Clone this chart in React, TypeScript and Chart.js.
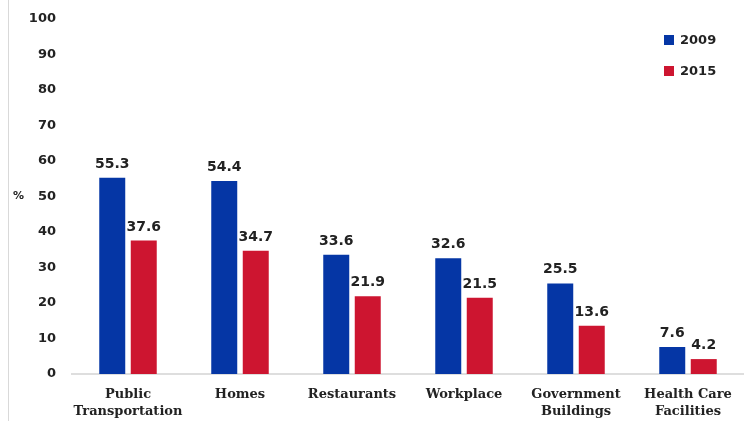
import React, { useEffect, useRef } from "react";
import { Chart, registerables } from "chart.js";

Chart.register(...registerables);

const categories: (string | string[])[] = [
  ["Public", "Transportation"],
  "Homes",
  "Restaurants",
  "Workplace",
  ["Government", "Buildings"],
  ["Health Care", "Facilities"],
];
const series2009 = [55.3, 54.4, 33.6, 32.6, 25.5, 7.6];
const series2015 = [37.6, 34.7, 21.9, 21.5, 13.6, 4.2];
const seriesNames = ["2009", "2015"];
const yTicks = [0, 10, 20, 30, 40, 50, 60, 70, 80, 90, 100];

const BLUE = "#0536a5";
const RED = "#cd1530";

export default function App() {
  const ref = useRef<HTMLCanvasElement | null>(null);

  useEffect(() => {
    document.body.style.margin = "0";
    const canvas = ref.current;
    if (!canvas) return;

    const extras = {
      id: "extras",
      afterDraw(chart: any) {
        const ctx = chart.ctx;
        ctx.save();
        // page border line
        ctx.strokeStyle = "#d9d9d9";
        ctx.lineWidth = 1;
        ctx.beginPath();
        ctx.moveTo(8.5, 0);
        ctx.lineTo(8.5, 421);
        ctx.stroke();
        // data labels
        ctx.fillStyle = "#222";
        ctx.font = "bold 14px 'DejaVu Sans'";
        ctx.textAlign = "center";
        ctx.textBaseline = "alphabetic";
        chart.data.datasets.forEach((ds: any, di: number) => {
          const meta = chart.getDatasetMeta(di);
          meta.data.forEach((bar: any, i: number) => {
            ctx.fillText(ds.data[i].toFixed(1), bar.x, bar.y - 10);
          });
        });
        // % label
        ctx.font = "bold 11px 'DejaVu Sans'";
        ctx.textAlign = "left";
        ctx.textBaseline = "middle";
        ctx.fillText("%", 13, 196);
        // legend
        const colors = [BLUE, RED];
        const ys = [40, 71];
        ctx.font = "bold 13px 'DejaVu Sans'";
        seriesNames.forEach((n, i) => {
          ctx.fillStyle = colors[i];
          ctx.fillRect(664, ys[i] - 5, 10, 10);
          ctx.fillStyle = "#222";
          ctx.fillText(n, 680, ys[i] + 1);
        });
        ctx.restore();
      },
    };

    const chart = new Chart(canvas, {
      type: "bar",
      data: {
        labels: categories,
        datasets: [
          { label: seriesNames[0], data: series2009, backgroundColor: BLUE },
          { label: seriesNames[1], data: series2015, backgroundColor: RED },
        ],
      },
      options: {
        responsive: false,
        animation: false,
        layout: { padding: { top: 19, right: 0, bottom: 3, left: 0 } },
        datasets: {
          bar: { categoryPercentage: 0.5625, barPercentage: 0.825 },
        },
        plugins: {
          legend: { display: false },
          tooltip: { enabled: false },
        },
        scales: {
          x: {
            grid: { display: false, drawTicks: false },
            border: { display: true, color: "#dedede", width: 2 },
            ticks: {
              color: "#222",
              font: { family: "'DejaVu Serif'", weight: "bold", size: 13, lineHeight: 1.3 },
              padding: 12,
              maxRotation: 0,
              autoSkip: false,
            },
            afterFit(scale: any) {
              scale.height = 44;
              scale.paddingLeft = 0;
              scale.paddingRight = 0;
            },
          },
          y: {
            min: 0,
            max: 100,
            afterBuildTicks(scale: any) {
              scale.ticks = yTicks.map((v) => ({ value: v }));
            },
            grid: { display: false, drawTicks: false },
            border: { display: false },
            ticks: {
              color: "#222",
              font: { family: "'DejaVu Sans'", weight: "bold", size: 13 },
              padding: 16,
            },
            afterFit(scale: any) {
              scale.width = 72;
              scale.paddingTop = 0;
              scale.paddingBottom = 0;
            },
          },
        },
      },
      plugins: [extras],
    });

    return () => chart.destroy();
  }, []);

  return (
    <div style={{ width: 744, height: 421 }}>
      <canvas ref={ref} width={744} height={421} style={{ display: "block" }} />
    </div>
  );
}
